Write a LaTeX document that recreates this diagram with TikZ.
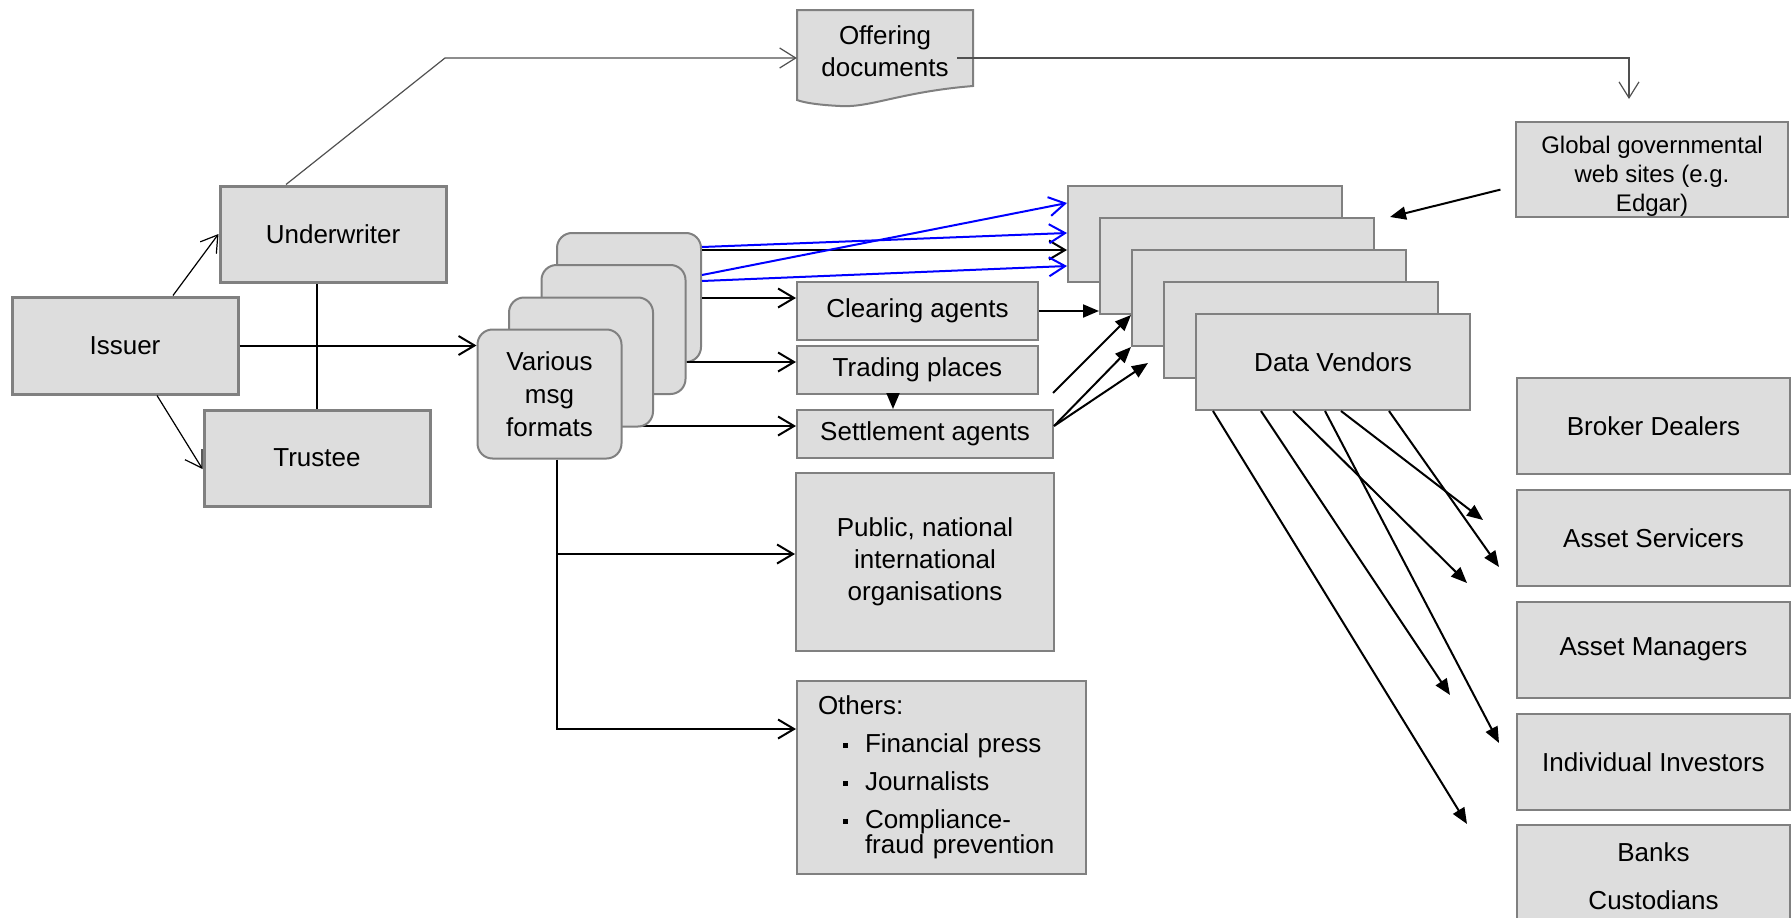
\documentclass[tikz,border=0pt]{standalone}
\usepackage{fontspec}
\setmainfont{Liberation Sans}
\usetikzlibrary{arrows.meta,backgrounds,calc}
\definecolor{boxfill}{RGB}{221,221,221}
\definecolor{boxline}{RGB}{128,128,128}
\definecolor{docline}{RGB}{80,80,80}
\newcommand{\sqbul}{\rule[5pt]{5pt}{5pt}}
\begin{document}
\begin{tikzpicture}[x=1pt,y=-1pt,
  every node/.style={font=\fontsize{26}{32}\selectfont},
  box/.style={draw=boxline, fill=boxfill, line width=2pt, inner sep=0pt, align=center},
  mainbox/.style={box, line width=3pt},
  rbox/.style={box, rounded corners=15pt, minimum width=144pt, minimum height=129pt},
  dvbox/.style={box, minimum width=274pt, minimum height=96pt},
  rcbox/.style={box, minimum width=273pt, minimum height=96pt},
  conn/.style={line width=2pt, -{Straight Barb[length=16pt,width=19pt]}},
  bconn/.style={conn, draw=blue},
  thinconn/.style={line width=1.2pt, -{Straight Barb[length=16pt,width=20pt]}},
  fconn/.style={line width=2pt, -{Triangle[length=16pt,width=13pt]}},
  plain/.style={line width=2pt}
]
\useasboundingbox (0,0) rectangle (1792,918);

% left group
\node[mainbox, minimum width=226pt, minimum height=97pt] (iss) at (125,345.5) {Issuer};
\node[mainbox, minimum width=226pt, minimum height=96pt] (uw) at (333,234) {Underwriter};
\node[mainbox, minimum width=226pt, minimum height=96pt] (tr) at (317,458) {Trustee};

% message format stack
\node[rbox] (v4) at (629,297.5) {};
\node[rbox] (v3) at (613.5,329.5) {};
\node[rbox] (v2) at (581,362) {};
\node[rbox, font=\fontsize{26}{33}\selectfont] (v1) at (549.5,394) {Various\\msg\\formats};

% offering documents
\draw[draw=boxline, fill=boxfill, line width=2pt] (797,10) -- (973,10) -- (973,86)
  .. controls (900,92) and (870,108) .. (840,106)
  .. controls (820,105) and (805,103) .. (797,100) -- cycle;
\node[align=center, minimum width=176pt, minimum height=76pt, inner sep=0pt] (off) at (885,51) {Offering\\documents};

% global governmental
\node[box, minimum width=272pt, minimum height=95pt, font=\fontsize{24}{29}\selectfont] (gg) at (1652,169.5)
  {\raisebox{-7pt}[\height][\depth]{\begin{tabular}{@{}c@{}}Global governmental\\web sites (e.g.\\Edgar)\end{tabular}}};

% middle column
\node[box, minimum width=241pt, minimum height=58pt] (ca) at (917.5,311) {Clearing agents};
\node[box, minimum width=241pt, minimum height=48pt] (tp) at (917.5,370) {Trading places};
\node[box, minimum width=256pt, minimum height=48pt] (sa) at (925,434) {Settlement agents};
\node[box, minimum width=258pt, minimum height=178pt] (pub) at (925,562) {Public, national\\international\\organisations};
\node[box, minimum width=289pt, minimum height=193pt, text width=247pt, align=left] (oth) at (941.5,777.5)
  {Others:\\[6pt]
   \hspace*{25pt}\sqbul\hspace*{17pt}Financial press\\[6pt]
   \hspace*{25pt}\sqbul\hspace*{17pt}Journalists\\[6pt]
   \hspace*{25pt}\sqbul\hspace*{17pt}Compliance-\\[-7pt]
   \hspace*{47pt}fraud prevention};

% data vendors stack
\node[dvbox] (dv1) at (1205,234) {};
\node[dvbox] (dv2) at (1237,266) {};
\node[dvbox] (dv3) at (1269,298) {};
\node[dvbox] (dv4) at (1301,330) {};
\node[dvbox] (dv5) at (1333,362) {Data Vendors};

% right column
\node[rcbox] (bd) at (1653.5,426) {Broker Dealers};
\node[rcbox] (asv) at (1653.5,538) {Asset Servicers};
\node[rcbox] (am) at (1653.5,649.5) {Asset Managers};
\node[rcbox] (ii) at (1653.5,762) {Individual Investors};
\node[box, minimum width=273pt, minimum height=102pt] (bk) at (1653.5,876) {Banks\\[16pt]Custodians};

% free ends and bends
\coordinate (k1) at (445,58);
\coordinate (offout) at (957,58);
\coordinate (br) at (557,554);
\coordinate (saout) at (1053,393);
\coordinate (t3) at (1148,363);
\coordinate (ggin) at (1390,217);
\coordinate (o1) at (1467,824);
\coordinate (o2) at (1450,695);
\coordinate (o3) at (1467,583);
\coordinate (o4) at (1499,743);
\coordinate (o5) at (1483,520);
\coordinate (o6) at (1499,567);

% connectors
\draw[thinconn] (iss.north -| 173,0) -- (uw.west);
\draw[thinconn] (iss.south -| 157,0) -- (tr.west |- 0,469);
\draw[thinconn, draw=docline] (uw.north -| 286,0) -- (k1) -- (off.west |- 0,58);
\draw[thinconn, draw=docline, shorten >=22pt] (offout) -| (gg.north -| 1629,0);

\draw[conn] (iss.east) -- (v1.west |- iss.east);
\draw[plain] (tr.north) -- (tr.north |- uw.south);

\draw[conn] (v4.east |- 0,250) -- (dv1.west |- 0,250);
\draw[bconn] (v4.east |- 0,247) -- (dv1.west |- 0,233);
\draw[bconn] (v4.east |- 0,275) -- (dv1.west |- 0,203);
\draw[bconn] (v4.east |- 0,281) -- (dv1.west |- 0,266);

\draw[conn] (v4.east |- 0,298) -- (ca.west |- 0,298);
\draw[conn] (v3.east |- 0,362) -- (tp.west |- 0,362);
\begin{pgfonlayer}{background}
\draw[conn] (v1.east |- 0,426) -- (sa.west |- 0,426);
\end{pgfonlayer}

\draw[plain] (v1.south -| 557,0) -- (br);
\draw[conn] (br) |- (oth.west |- 0,729);
\draw[conn] (br) -- (pub.west |- 0,554);

\draw[fconn] (ca.east) -- (ca.east -| dv2.west);
\draw[fconn] (tp.south -| 893,0) -- (sa.north -| 893,0);
\draw[fconn] (saout) -- (dv3.west |- dv2.south);
\draw[fconn] (sa.east |- 0,426) -- (dv3.south west);
\draw[fconn] (sa.east |- 0,426) -- (t3);
\draw[fconn, shorten <=15pt] (gg.west |- 0,186) -- (ggin);

\draw[fconn] (dv5.south -| 1213,0) -- (o1);
\draw[fconn] (dv5.south -| 1261,0) -- (o2);
\draw[fconn] (dv5.south -| 1293,0) -- (o3);
\draw[fconn] (dv5.south -| 1325,0) -- (o4);
\draw[fconn] (dv5.south -| 1341,0) -- (o5);
\draw[fconn] (dv5.south -| 1389,0) -- (o6);
\end{tikzpicture}
\end{document}
